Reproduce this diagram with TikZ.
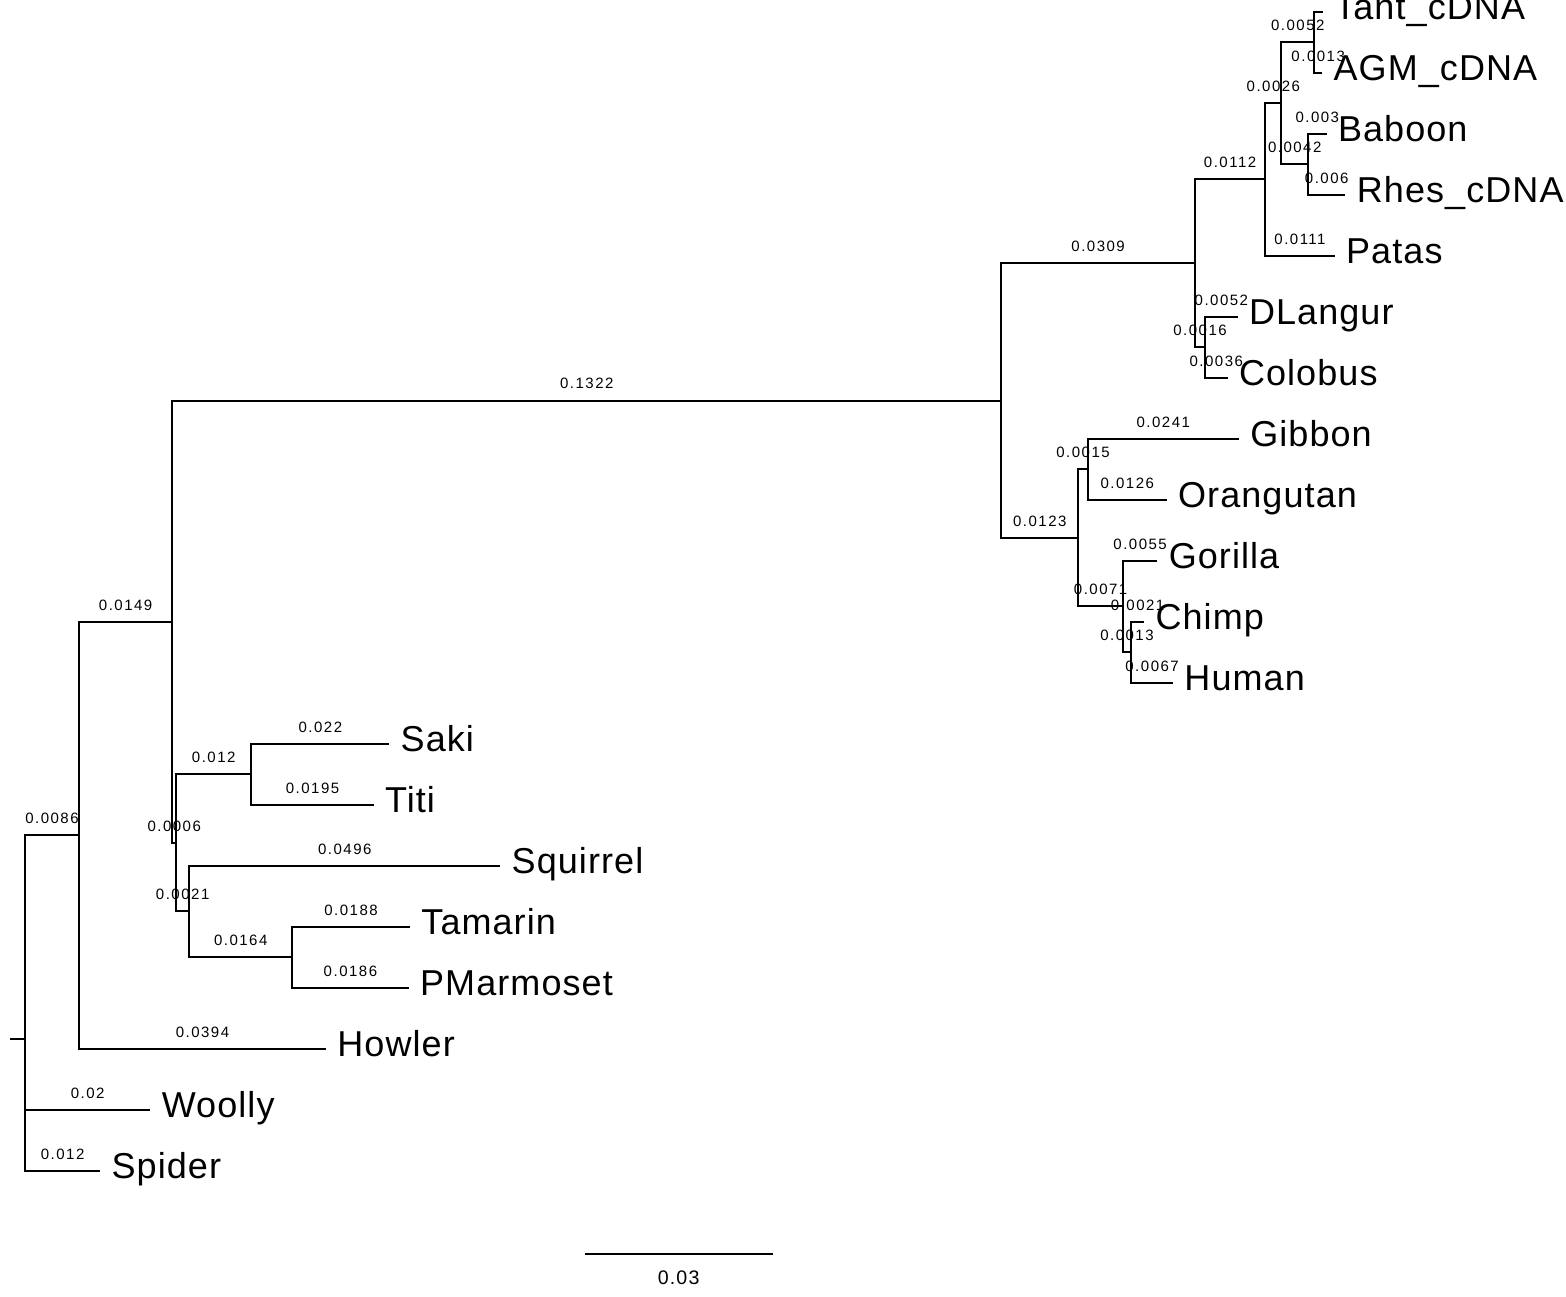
\documentclass[tikz,border=0pt]{standalone}
\usepackage{fontspec}
\setmainfont{Liberation Sans}
\begin{document}
\begin{tikzpicture}[
  edge/.style={draw=black, line width=1pt},
  blab/.style={font=\fontsize{7.5}{9}\selectfont\addfontfeature{LetterSpace=10},
    anchor=base, inner sep=0pt, yshift=5.8pt, pos=0.75},
  taxon/.style={font=\fontsize{18}{21}\selectfont\addfontfeature{LetterSpace=3},
    anchor=base west, inner sep=0pt, xshift=5.5pt, yshift=-4pt},
  barlab/.style={font=\fontsize{9.8}{11}\selectfont\addfontfeature{LetterSpace=6},
    anchor=base, inner sep=0pt}
]
\useasboundingbox (0pt,0pt) rectangle (783pt,-648pt);

% tree: x = cumulative branch length, y = leaf row
\begin{scope}[x=3135pt, y=-30.5pt, shift={(12.5pt,-5.85pt)}]
  % internal nodes
  \coordinate (R) at (0, 16.8333);
  \coordinate (stub) at (-0.0024, 16.8333);
  \coordinate (A) at (0.0086, 13.5);
  \coordinate (B) at (0.0235, 10);
  \coordinate (C) at (0.1557, 6.375);
  \coordinate (H) at (0.1866, 4.125);
  \coordinate (J) at (0.1978, 2.75);
  \coordinate (L) at (0.2004, 1.5);
  \coordinate (M) at (0.2056, 0.5);
  \coordinate (N) at (0.2046, 2.5);
  \coordinate (K) at (0.1882, 5.5);
  \coordinate (I) at (0.1680, 8.625);
  \coordinate (O) at (0.1695, 7.5);
  \coordinate (P) at (0.1751, 9.75);
  \coordinate (Q) at (0.1764, 10.5);
  \coordinate (D) at (0.0241, 13.625);
  \coordinate (E) at (0.0361, 12.5);
  \coordinate (F) at (0.0262, 14.75);
  \coordinate (G) at (0.0426, 15.5);
  % leaf tips
  \coordinate (tTant) at (0.2070, 0);
  \coordinate (tAGM) at (0.2069, 1);
  \coordinate (tBaboon) at (0.2076, 2);
  \coordinate (tRhes) at (0.2106, 3);
  \coordinate (tPatas) at (0.2089, 4);
  \coordinate (tDLangur) at (0.1934, 5);
  \coordinate (tColobus) at (0.1918, 6);
  \coordinate (tGibbon) at (0.1936, 7);
  \coordinate (tOrangutan) at (0.1821, 8);
  \coordinate (tGorilla) at (0.1806, 9);
  \coordinate (tChimp) at (0.1785, 10);
  \coordinate (tHuman) at (0.1831, 11);
  \coordinate (tSaki) at (0.0581, 12);
  \coordinate (tTiti) at (0.0556, 13);
  \coordinate (tSquirrel) at (0.0758, 14);
  \coordinate (tTamarin) at (0.0614, 15);
  \coordinate (tPMarmoset) at (0.0612, 16);
  \coordinate (tHowler) at (0.0480, 17);
  \coordinate (tWoolly) at (0.0200, 18);
  \coordinate (tSpider) at (0.0120, 19);

  % root stub
  \draw[edge] (stub) -- (R);

  % branches with lengths
  \draw[edge] (R) |- (A) node[blab] {0.0086};
  \draw[edge] (R) |- (tWoolly) node[blab] {0.02};
  \draw[edge] (R) |- (tSpider) node[blab] {0.012};
  \draw[edge] (A) |- (B) node[blab] {0.0149};
  \draw[edge] (A) |- (tHowler) node[blab] {0.0394};
  \draw[edge] (B) |- (C) node[blab] {0.1322};
  \draw[edge] (B) |- (D) node[blab] {0.0006};
  \draw[edge] (C) |- (H) node[blab] {0.0309};
  \draw[edge] (C) |- (I) node[blab] {0.0123};
  \draw[edge] (H) |- (J) node[blab] {0.0112};
  \draw[edge] (H) |- (K) node[blab] {0.0016};
  \draw[edge] (J) |- (L) node[blab] {0.0026};
  \draw[edge] (J) |- (tPatas) node[blab] {0.0111};
  \draw[edge] (L) |- (M) node[blab] {0.0052};
  \draw[edge] (L) |- (N) node[blab] {0.0042};
  \draw[edge] (M) |- (tTant);
  \draw[edge] (M) |- (tAGM) node[blab] {0.0013};
  \draw[edge] (N) |- (tBaboon) node[blab] {0.003};
  \draw[edge] (N) |- (tRhes) node[blab] {0.006};
  \draw[edge] (K) |- (tDLangur) node[blab] {0.0052};
  \draw[edge] (K) |- (tColobus) node[blab] {0.0036};
  \draw[edge] (I) |- (O) node[blab] {0.0015};
  \draw[edge] (I) |- (P) node[blab] {0.0071};
  \draw[edge] (O) |- (tGibbon) node[blab] {0.0241};
  \draw[edge] (O) |- (tOrangutan) node[blab] {0.0126};
  \draw[edge] (P) |- (tGorilla) node[blab] {0.0055};
  \draw[edge] (P) |- (Q) node[blab] {0.0013};
  \draw[edge] (Q) |- (tChimp) node[blab] {0.0021};
  \draw[edge] (Q) |- (tHuman) node[blab] {0.0067};
  \draw[edge] (D) |- (E) node[blab] {0.012};
  \draw[edge] (D) |- (F) node[blab] {0.0021};
  \draw[edge] (E) |- (tSaki) node[blab] {0.022};
  \draw[edge] (E) |- (tTiti) node[blab] {0.0195};
  \draw[edge] (F) |- (tSquirrel) node[blab] {0.0496};
  \draw[edge] (F) |- (G) node[blab] {0.0164};
  \draw[edge] (G) |- (tTamarin) node[blab] {0.0188};
  \draw[edge] (G) |- (tPMarmoset) node[blab] {0.0186};

  % taxon names
  \node[taxon] (Tant) at (tTant) {Tant\_cDNA};
  \node[taxon] (AGM) at (tAGM) {AGM\_cDNA};
  \node[taxon] (Baboon) at (tBaboon) {Baboon};
  \node[taxon] (Rhes) at (tRhes) {Rhes\_cDNA};
  \node[taxon] (Patas) at (tPatas) {Patas};
  \node[taxon] (DLangur) at (tDLangur) {DLangur};
  \node[taxon] (Colobus) at (tColobus) {Colobus};
  \node[taxon] (Gibbon) at (tGibbon) {Gibbon};
  \node[taxon] (Orangutan) at (tOrangutan) {Orangutan};
  \node[taxon] (Gorilla) at (tGorilla) {Gorilla};
  \node[taxon] (Chimp) at (tChimp) {Chimp};
  \node[taxon] (Human) at (tHuman) {Human};
  \node[taxon] (Saki) at (tSaki) {Saki};
  \node[taxon] (Titi) at (tTiti) {Titi};
  \node[taxon] (Squirrel) at (tSquirrel) {Squirrel};
  \node[taxon] (Tamarin) at (tTamarin) {Tamarin};
  \node[taxon] (PMarmoset) at (tPMarmoset) {PMarmoset};
  \node[taxon] (Howler) at (tHowler) {Howler};
  \node[taxon] (Woolly) at (tWoolly) {Woolly};
  \node[taxon] (Spider) at (tSpider) {Spider};
\end{scope}

% scale bar
\coordinate (barL) at (292.25pt,-626.75pt);
\coordinate (barR) at (386.3pt,-626.75pt);
\draw[edge] (barL) -- (barR);
\node[barlab] (barText) at (339.3pt,-642pt) {0.03};
\end{tikzpicture}
\end{document}
